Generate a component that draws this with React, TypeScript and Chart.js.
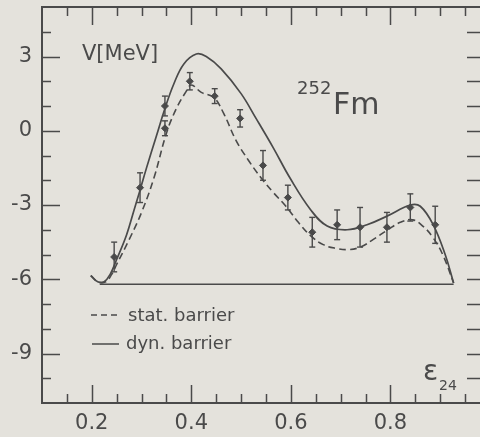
import React, { useEffect, useRef } from 'react';
import { Chart, registerables } from 'chart.js';

Chart.register(...registerables);

// ---- data ----
const xTickLabels = [0.2, 0.4, 0.6, 0.8];
const yTickLabels = [-9, -6, -3, 0, 3];
const xMinorTicks = [0.15, 0.2, 0.25, 0.3, 0.35, 0.4, 0.45, 0.5, 0.55, 0.6, 0.65, 0.7, 0.75, 0.8, 0.85, 0.9, 0.95];
const yMinorTicks = [-10, -9, -8, -7, -6, -5, -4, -3, -2, -1, 0, 1, 2, 3, 4];

const dynX = [0.198, 0.212, 0.225, 0.237, 0.25, 0.27, 0.285, 0.297, 0.31, 0.33, 0.347, 0.365, 0.385, 0.41, 0.43, 0.46, 0.5, 0.53, 0.565, 0.598, 0.64, 0.673, 0.713, 0.753, 0.793, 0.84, 0.86, 0.886, 0.91, 0.927];
const dynY = [-5.85, -6.1, -6.1, -5.8, -5.2, -4.2, -3.2, -2.4, -1.5, -0.2, 0.9, 1.9, 2.7, 3.1, 3.0, 2.5, 1.5, 0.5, -0.7, -1.9, -3.2, -3.85, -4.0, -3.8, -3.45, -3.0, -3.05, -3.8, -5.0, -6.15];

const statX = [0.198, 0.212, 0.228, 0.24, 0.25, 0.275, 0.3, 0.325, 0.35, 0.37, 0.39, 0.4, 0.42, 0.445, 0.465, 0.49, 0.515, 0.54, 0.565, 0.59, 0.615, 0.64, 0.665, 0.69, 0.715, 0.74, 0.765, 0.795, 0.82, 0.845, 0.865, 0.885, 0.905, 0.927];
const statY = [-5.85, -6.1, -6.1, -5.8, -5.4, -4.4, -3.3, -1.9, -0.1, 0.9, 1.6, 1.85, 1.55, 1.35, 0.7, -0.4, -1.2, -1.9, -2.5, -3.05, -3.7, -4.25, -4.6, -4.75, -4.8, -4.7, -4.4, -4.0, -3.7, -3.6, -3.85, -4.3, -5.0, -6.15];

const groundX = [0.216, 0.927];
const groundY = [-6.2, -6.2];

const expX = [0.245, 0.297, 0.347, 0.347, 0.397, 0.447, 0.498, 0.544, 0.594, 0.643, 0.693, 0.739, 0.793, 0.84, 0.89];
const expY = [-5.1, -2.3, 1.0, 0.1, 2.0, 1.4, 0.5, -1.4, -2.7, -4.1, -3.8, -3.9, -3.9, -3.1, -3.8];
const expErr = [0.6, 0.6, 0.4, 0.3, 0.35, 0.3, 0.35, 0.6, 0.5, 0.6, 0.6, 0.8, 0.6, 0.55, 0.75];

const legendLabels = ['stat. barrier', 'dyn. barrier'];

// ---- styles ----
const INK = '#4a4a4a';
const BG = '#e4e2dc';
const FONT = '"DejaVu Sans", sans-serif';

const pts = (xs: number[], ys: number[]) => xs.map((x, i) => ({ x, y: ys[i] }));

const errData = expX.flatMap((x, i) => [
  { x, y: expY[i] - expErr[i] },
  { x, y: expY[i] + expErr[i] },
  { x, y: null as any },
]);

const decorPlugin = {
  id: 'decor',
  beforeDraw(chart: any) {
    const { ctx, width, height } = chart;
    ctx.save();
    ctx.fillStyle = BG;
    ctx.fillRect(0, 0, width, height);
    ctx.restore();
  },
  afterDraw(chart: any) {
    const { ctx, chartArea, scales } = chart;
    const { left, right, top, bottom } = chartArea;
    const xs = scales.x;
    const ys = scales.y;
    ctx.save();
    ctx.strokeStyle = INK;
    ctx.lineWidth = 2;
    ctx.beginPath();
    ctx.moveTo(right, top);
    ctx.lineTo(left, top);
    ctx.lineTo(left, bottom);
    ctx.lineTo(right, bottom);
    ctx.stroke();

    ctx.lineWidth = 1.5;
    ctx.beginPath();
    xMinorTicks.forEach((v) => {
      const px = Math.round(xs.getPixelForValue(v)) + 0.5;
      const major = xTickLabels.some((t) => Math.abs(t - v) < 1e-6);
      const len = major ? 18 : 9;
      ctx.moveTo(px, bottom);
      ctx.lineTo(px, bottom - len);
      ctx.moveTo(px, top);
      ctx.lineTo(px, top + len);
    });
    yMinorTicks.forEach((v) => {
      const py = Math.round(ys.getPixelForValue(v)) + 0.5;
      const major = yTickLabels.includes(v);
      const len = major ? 18 : 9;
      ctx.moveTo(left, py);
      ctx.lineTo(left + len, py);
      ctx.moveTo(right, py);
      ctx.lineTo(right - 13, py);
    });
    ctx.stroke();

    // legend
    ctx.lineWidth = 1.5;
    ctx.setLineDash([6, 4]);
    ctx.beginPath();
    ctx.moveTo(91, 315);
    ctx.lineTo(121, 315);
    ctx.stroke();
    ctx.setLineDash([]);
    ctx.beginPath();
    ctx.moveTo(92, 344);
    ctx.lineTo(119, 344);
    ctx.stroke();

    ctx.fillStyle = INK;
    ctx.textAlign = 'left';
    ctx.textBaseline = 'alphabetic';
    ctx.font = `18px ${FONT}`;
    ctx.fillText(legendLabels[0], 128, 321);
    ctx.fillText(legendLabels[1], 126, 349);

    // annotations
    ctx.font = `21px ${FONT}`;
    ctx.fillText('V[MeV]', 82, 60);
    ctx.font = `18px ${FONT}`;
    ctx.fillText('252', 297, 94);
    ctx.font = `30px ${FONT}`;
    ctx.fillText('Fm', 333, 114);
    ctx.font = `28px ${FONT}`;
    ctx.fillText('ε', 423, 380);
    ctx.font = `14px ${FONT}`;
    ctx.fillText('24', 439, 390);
    ctx.restore();
  },
};

export default function App() {
  const ref = useRef<HTMLCanvasElement | null>(null);
  useEffect(() => {
    document.body.style.margin = '0';
    document.body.style.background = BG;
    const canvas = ref.current;
    if (!canvas) return;
    const chart = new Chart(canvas, {
      type: 'scatter',
      data: {
        datasets: [
          {
            label: 'dyn',
            data: pts(dynX, dynY),
            showLine: true,
            borderColor: INK,
            borderWidth: 1.7,
            pointRadius: 0,
            tension: 0.4,
          },
          {
            label: 'stat',
            data: pts(statX, statY),
            showLine: true,
            borderColor: INK,
            borderWidth: 1.6,
            borderDash: [7, 4],
            pointRadius: 0,
            tension: 0.4,
          },
          {
            label: 'ground',
            data: pts(groundX, groundY),
            showLine: true,
            borderColor: INK,
            borderWidth: 1.6,
            pointRadius: 0,
          },
          {
            label: 'err',
            data: errData,
            showLine: true,
            spanGaps: false,
            borderColor: INK,
            borderWidth: 1.4,
            pointStyle: 'line',
            pointRadius: 3,
            pointBorderColor: INK,
            pointBorderWidth: 1.4,
          },
          {
            label: 'exp',
            data: pts(expX, expY),
            showLine: false,
            pointStyle: 'rectRot',
            pointRadius: 3.5,
            pointBackgroundColor: INK,
            pointBorderColor: INK,
            pointBorderWidth: 1,
          },
        ],
      },
      options: {
        animation: false,
        responsive: false,
        devicePixelRatio: 1,
        layout: { autoPadding: false, padding: { top: 7, right: 0, left: 0, bottom: 0 } },
        plugins: { legend: { display: false }, tooltip: { enabled: false } },
        scales: {
          x: {
            type: 'linear',
            min: 0.1,
            max: 0.98,
            grid: { display: false, drawTicks: false },
            border: { display: false },
            afterBuildTicks: (s: any) => {
              s.ticks = xTickLabels.map((v) => ({ value: v }));
            },
            afterFit: (s: any) => {
              s.height = 34;
              s.paddingLeft = 0;
              s.paddingRight = 0;
            },
            ticks: {
              padding: 8,
              color: INK,
              font: { family: FONT, size: 21 },
              callback: (v: any) => Number(v).toFixed(1),
            },
          },
          y: {
            type: 'linear',
            min: -11,
            max: 5,
            grid: { display: false, drawTicks: false },
            border: { display: false },
            afterBuildTicks: (s: any) => {
              s.ticks = yTickLabels.map((v) => ({ value: v }));
            },
            afterFit: (s: any) => {
              s.width = 42;
              s.paddingTop = 0;
              s.paddingBottom = 0;
            },
            ticks: {
              padding: 10,
              color: INK,
              font: { family: FONT, size: 21 },
              callback: (v: any) => String(v),
            },
          },
        },
      },
      plugins: [decorPlugin],
    });
    return () => chart.destroy();
  }, []);
  return (
    <div style={{ position: 'absolute', left: 0, top: 0, width: 480, height: 437 }}>
      <canvas ref={ref} width={480} height={437} style={{ display: 'block' }} />
    </div>
  );
}
